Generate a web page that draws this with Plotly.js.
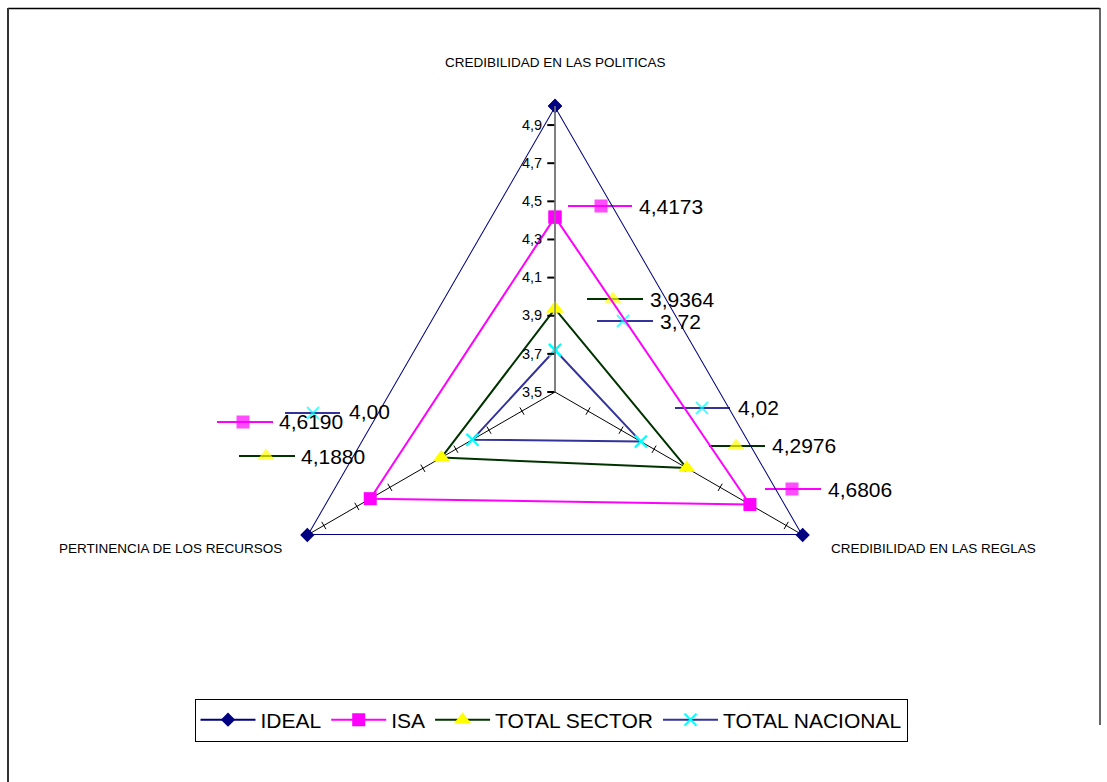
<!DOCTYPE html>
<html>
<head>
<meta charset="utf-8">
<script src="https://cdn.plot.ly/plotly-3.0.1.min.js"></script>
<style>html,body{margin:0;padding:0;background:#fff}#chart{width:1107px;height:782px}</style>
</head>
<body>
<div id="chart"></div>
<script>
// ---- data ----
var categories = ['CREDIBILIDAD EN LAS POLITICAS', 'CREDIBILIDAD EN LAS REGLAS', 'PERTINENCIA DE LOS RECURSOS'];
var idealValues = [5, 5, 5];
var isaValues = [4.4173, 4.6806, 4.6190];
var sectorValues = [3.9364, 4.2976, 4.1880];
var nacionalValues = [3.72, 4.02, 4.00];
var radialTicks = [3.5, 3.7, 3.9, 4.1, 4.3, 4.5, 4.7, 4.9];
var seriesNames = ['IDEAL', 'ISA', 'TOTAL SECTOR', 'TOTAL NACIONAL'];

// ---- styles ----
var FONT = 'Liberation Sans, Arial, sans-serif';
var W = 1107, H = 782;
var cx = 555, cy = 392, R = 286;

function closeLoop(a) { return a.concat([a[0]]); }
function fmt(v, d) { return v.toFixed(d).replace('.', ','); }

var traces = [];

var seriesDefs = [
  { name: seriesNames[0], vals: idealValues, line: '#000080', lw: 2, sym: 'diamond', mcol: '#000080', msize: 11, mline: 0 },
  { name: seriesNames[1], vals: isaValues, line: '#FF00FF', lw: 2, sym: 'square', mcol: '#FF00FF', msize: 13, mline: 0 },
  { name: seriesNames[2], vals: sectorValues, line: '#003300', lw: 2, sym: 'triangle-up', mcol: '#FFFF00', msize: 15, mline: 0 },
  { name: seriesNames[3], vals: nacionalValues, line: '#333399', lw: 2, sym: 'x-thin', mcol: '#00FFFF', msize: 12, mline: 2 }
];

function markerOf(s, size) {
  var mk = { symbol: s.sym, size: size, color: s.mcol };
  mk.line = s.mline ? { color: s.mcol, width: s.mline } : { width: 0 };
  return mk;
}

seriesDefs.forEach(function (s) {
  traces.push({
    type: 'scatterpolar', mode: 'lines+markers', name: s.name,
    r: closeLoop(s.vals), theta: closeLoop(categories),
    line: { color: s.line, width: s.lw }, marker: markerOf(s, s.msize)
  });
});

// spoke tick marks (at radial tick values) on the two lower spokes
var spokeTicks = radialTicks.slice(1);
traces.unshift({
  type: 'scatterpolar', mode: 'markers', showlegend: false, hoverinfo: 'skip',
  r: spokeTicks, theta: spokeTicks.map(function () { return categories[2]; }),
  marker: { symbol: 'line-ns', size: 6, angle: -30, line: { color: '#000', width: 1 } }
});
traces.unshift({
  type: 'scatterpolar', mode: 'markers', showlegend: false, hoverinfo: 'skip',
  r: spokeTicks, theta: spokeTicks.map(function () { return categories[1]; }),
  marker: { symbol: 'line-ns', size: 6, angle: 30, line: { color: '#000', width: 1 } }
});

// ---- data label keys (Excel style: legend key + value) ----
// positions in pixels: [lineStart, markerX, lineEnd, y, textX, textY]
var labelPos = {
  1: [[568, 601, 632, 206, 637, 206], [765, 792, 821, 489, 826, 489], [217, 243, 273, 422, 277, 421]],
  2: [[587, 613, 643, 299, 648, 299], [709, 736, 765, 446, 770, 445], [239, 266, 295, 456, 299, 456]],
  3: [[597, 623, 653, 321, 658, 321], [675, 702, 730, 408, 736, 407], [285, 313, 340, 413, 347, 411]]
};
var decimals = { 1: 4, 2: 4, 3: 2 };
var annotations = [];
[1, 2, 3].forEach(function (si) {
  var s = seriesDefs[si];
  labelPos[si].forEach(function (p, ci) {
    traces.push({
      type: 'scatter', mode: 'lines+markers', xaxis: 'x', yaxis: 'y', showlegend: false, hoverinfo: 'skip',
      x: [p[0], p[1], p[2]], y: [p[3], p[3], p[3]],
      line: { color: s.line, width: s.lw }, marker: markerOf(s, [0, s.msize, 0])
    });
    annotations.push({
      xref: 'x', yref: 'y', x: p[4], y: p[5], xanchor: 'left', yanchor: 'middle', showarrow: false,
      text: fmt(s.vals[ci], decimals[si]), font: { family: FONT, size: 21, color: '#000' }
    });
  });
});

// category labels
var catLabelPos = [[555, 62, 'center'], [829, 548, 'left'], [284, 548, 'right']];
categories.forEach(function (c, i) {
  annotations.push({
    xref: 'x', yref: 'y', x: catLabelPos[i][0], y: catLabelPos[i][1], xanchor: catLabelPos[i][2], yanchor: 'middle',
    showarrow: false, text: c, font: { family: FONT, size: 13.5, color: '#000' }
  });
});

var layout = {
  width: W, height: H,
  margin: { l: 0, r: 0, t: 0, b: 0 },
  paper_bgcolor: '#fff', plot_bgcolor: 'rgba(0,0,0,0)',
  separators: ',.',
  font: { family: FONT, color: '#000' },
  showlegend: true,
  legend: {
    orientation: 'h', x: 551 / W, xanchor: 'center', y: 1 - 720 / H, yanchor: 'middle',
    bordercolor: '#000', borderwidth: 1, bgcolor: '#fff',
    font: { family: FONT, size: 21, color: '#000' }, itemwidth: 55
  },
  xaxis: { range: [0, W], visible: false, fixedrange: true, domain: [0, 1] },
  yaxis: { range: [H, 0], visible: false, fixedrange: true, domain: [0, 1] },
  polar: {
    domain: { x: [(cx - R) / W, (cx + R) / W], y: [1 - (cy + R) / H, 1 - (cy - R) / H] },
    bgcolor: 'rgba(0,0,0,0)',
    gridshape: 'linear',
    angularaxis: {
      type: 'category', categoryorder: 'array', categoryarray: categories,
      rotation: 90, direction: 'clockwise', showticklabels: false, ticks: '',
      showline: false, showgrid: true, gridcolor: '#000', gridwidth: 1
    },
    radialaxis: {
      range: [3.5, 5], tickvals: radialTicks, tickformat: '.1f', angle: 90,
      side: 'counterclockwise', showgrid: false, showline: true, linecolor: '#808080', linewidth: 1.5,
      ticks: 'outside', ticklen: 7, tickwidth: 2, tickcolor: '#000',
      tickfont: { family: FONT, size: 14.5, color: '#000' }, tickangle: 90
    }
  },
  annotations: annotations,
  shapes: [
    { type: 'line', xref: 'x', yref: 'y', x0: 8, y0: 8.5, x1: 1100, y1: 8.5, line: { color: '#000', width: 1.5 } },
    { type: 'line', xref: 'x', yref: 'y', x0: 8, y0: 8, x1: 8, y1: 782, line: { color: '#333', width: 2 } },
    { type: 'line', xref: 'x', yref: 'y', x0: 1100, y0: 8, x1: 1100, y1: 725, line: { color: '#333', width: 1.5 } }
  ]
};

Plotly.newPlot('chart', traces, layout, { staticPlot: true, displayModeBar: false });
</script>
</body>
</html>
